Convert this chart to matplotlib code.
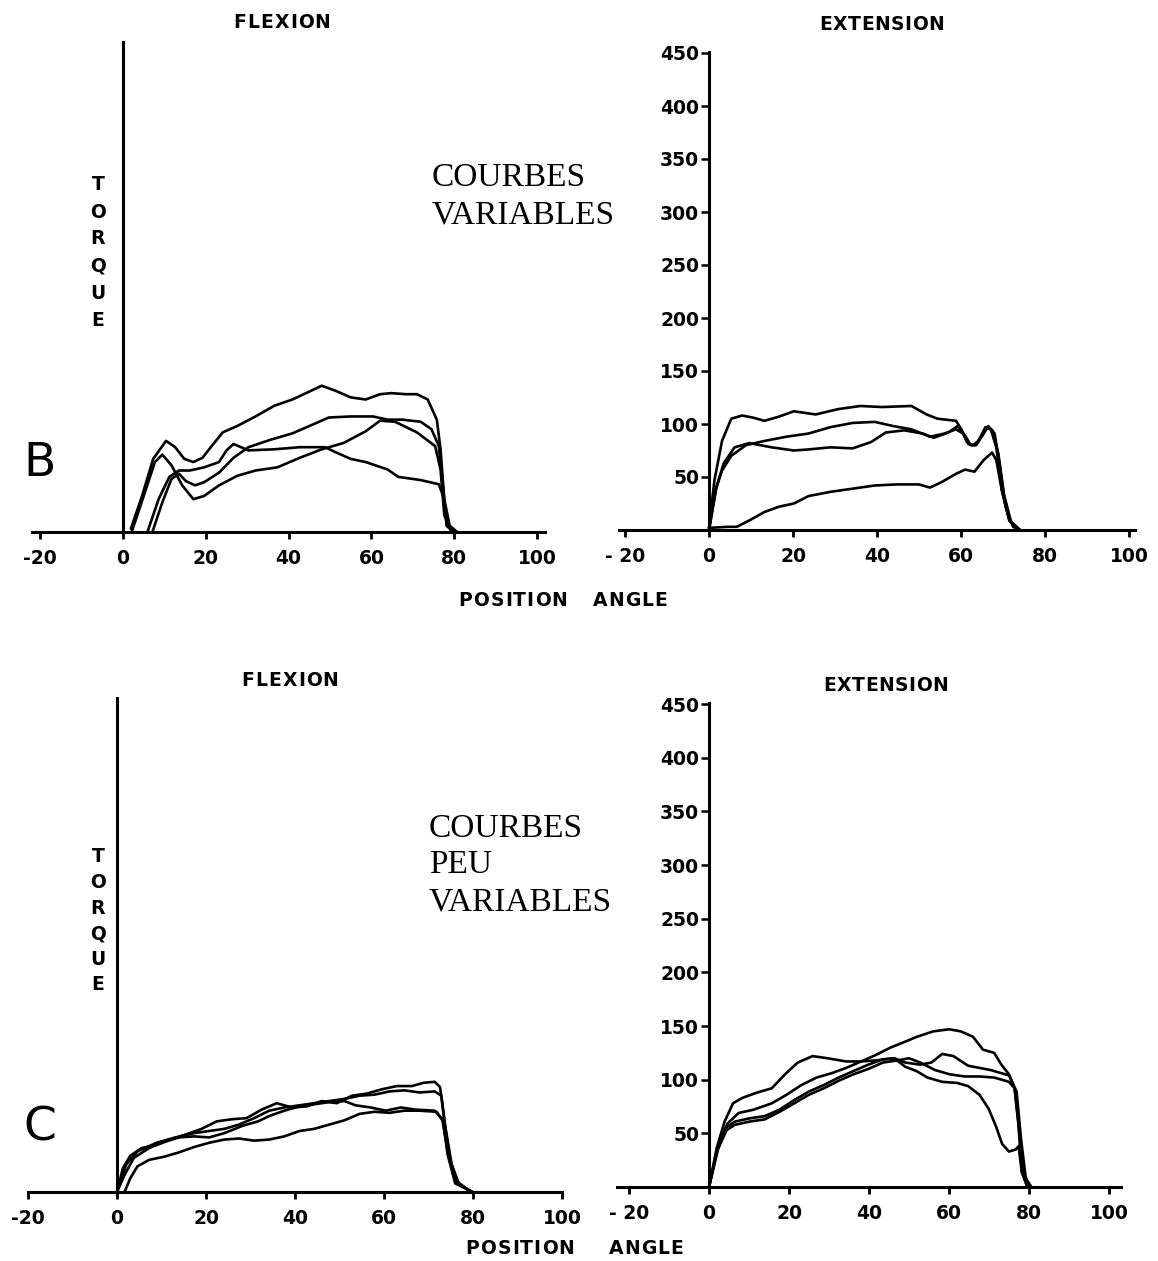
import matplotlib
matplotlib.use("Agg")
import matplotlib.pyplot as plt

W, H = 1158, 1261

# ---------------- data (angle in degrees, torque) ----------------
x_ticks = [-20, 0, 20, 40, 60, 80, 100]
x_labels_left = ["-20", "0", "20", "40", "60", "80", "100"]
x_labels_right = ["- 20", "0", "20", "40", "60", "80", "100"]
y_ticks = [50, 100, 150, 200, 250, 300, 350, 400, 450]
y_labels = ["50", "100", "150", "200", "250", "300", "350", "400", "450"]

# B - FLEXION
bf1_angle = [1.9, 4.6, 7.3, 10.4, 12.6, 14.8, 17.0, 19.2, 21.4, 24.1, 27.6, 32.0, 36.5, 40.9, 45.3, 48.0,
             51.5, 55.0, 58.6, 62.1, 64.8, 68.3, 71.0, 73.6, 75.8, 76.7, 77.6, 78.9, 80.7]
bf1_torque = [3, 34, 69, 86, 80, 69, 66, 70, 81, 94, 100, 109, 119, 125, 133, 138,
              133, 127, 125, 130, 131, 130, 130, 125, 106, 78, 31, 6, 0]
bf2_angle = [2.1, 5.0, 7.7, 9.5, 11.7, 14.3, 17.0, 19.6, 23.2, 27.6, 32.0, 37.3, 42.7, 48.0, 53.3, 58.6,
             62.1, 65.7, 71.0, 75.4, 76.7, 77.6, 79.4]
bf2_torque = [0, 34, 66, 73, 63, 44, 31, 34, 44, 53, 58, 61, 70, 78, 84, 95,
              105, 104, 94, 81, 59, 16, 0]
bf3_angle = [5.9, 8.6, 11.2, 13.5, 16.1, 19.6, 23.2, 25.0, 26.7, 28.5, 30.3, 36.5, 42.7, 48.8, 51.5, 55.0,
             58.6, 63.9, 66.5, 71.9, 76.3, 77.3, 78.2, 79.8]
bf3_torque = [0, 31, 52, 58, 58, 61, 66, 77, 83, 80, 77, 78, 80, 80, 75, 69,
              66, 59, 52, 49, 45, 34, 6, 0]
bf4_angle = [7.1, 9.5, 11.7, 13.5, 15.2, 17.4, 19.6, 23.2, 26.7, 30.3, 35.6, 40.9, 46.2, 49.7, 55.0, 60.4,
             63.9, 67.4, 71.9, 74.5, 76.3, 77.2, 78.2, 79.8]
bf4_torque = [0, 28, 50, 55, 48, 44, 47, 56, 70, 80, 87, 93, 102, 108, 109, 109,
              106, 106, 104, 97, 81, 47, 6, 0]

# B - EXTENSION
be1_angle = [0, 1.3, 3.1, 5.3, 7.9, 10.5, 13.2, 16.7, 20.2, 25.4, 30.7, 36.0, 41.2, 48.2, 51.8, 54.4,
             58.8, 60.1, 61.4, 62.7, 64.0, 65.8, 67.1, 68.4, 69.7, 71.5, 73.7]
be1_torque = [2, 47, 84, 105, 108, 106, 103, 107, 112, 109, 114, 117, 116, 117, 109, 105,
              103, 95, 83, 80, 83, 97, 95, 78, 38, 9, 0]
be2_angle = [0, 1.6, 3.1, 5.3, 8.8, 13.2, 18.4, 23.7, 28.9, 34.2, 39.5, 43.9, 48.2, 52.6, 56.1, 58.8,
             60.5, 61.8, 63.2, 64.9, 66.2, 67.5, 68.9, 70.2, 71.9, 74.1]
be2_torque = [0, 38, 56, 70, 80, 84, 88, 91, 97, 101, 102, 98, 95, 88, 91, 95,
              91, 81, 80, 88, 97, 94, 72, 34, 8, 0]
be3_angle = [0, 1.8, 3.5, 6.1, 9.6, 14.9, 20.2, 23.7, 28.9, 34.2, 38.6, 42.1, 46.5, 50.9, 53.5, 57.0,
             59.2, 61.0, 62.3, 63.6, 65.4, 66.5, 68.0, 69.3, 70.6, 72.4, 74.1]
be3_torque = [0, 41, 63, 78, 82, 78, 75, 76, 78, 77, 83, 92, 94, 91, 87, 92,
              98, 89, 80, 80, 91, 98, 91, 59, 22, 3, 0]
be4_angle = [0, 4.4, 6.6, 9.6, 13.2, 16.7, 20.2, 23.7, 28.9, 34.2, 39.5, 44.7, 50.0, 52.6, 55.3, 58.8,
             61.0, 63.2, 65.4, 67.4, 68.4, 69.7, 71.5, 73.7]
be4_torque = [2, 3, 3, 9, 17, 22, 25, 32, 36, 39, 42, 43, 43, 40, 45, 53,
              57, 55, 66, 73, 66, 38, 9, 0]

# C - FLEXION
cf1_angle = [0, 1.3, 3.0, 5.5, 8.9, 12.2, 15.6, 19.0, 22.4, 25.8, 29.1, 32.5, 35.9, 39.3, 42.7, 46.0,
             49.4, 52.8, 56.2, 59.5, 62.9, 66.3, 68.8, 71.4, 72.6, 73.5, 74.7, 76.4, 79.4]
cf1_torque = [0, 22, 34, 41, 44, 49, 54, 59, 66, 68, 69, 77, 83, 79, 80, 85,
              83, 90, 92, 96, 99, 99, 102, 103, 98, 69, 32, 10, 0]
cf2_angle = [0, 2.1, 4.6, 8.9, 13.1, 17.3, 20.7, 24.1, 27.4, 30.8, 34.2, 37.6, 41.0, 44.3, 47.7, 51.1,
             54.5, 57.9, 61.2, 64.6, 68.0, 71.4, 72.9, 73.7, 75.2, 76.9, 79.7]
cf2_torque = [0, 26, 38, 46, 51, 55, 57, 59, 63, 69, 76, 79, 81, 83, 85, 87,
              90, 91, 94, 95, 93, 94, 90, 63, 26, 7, 0]
cf3_angle = [0, 1.7, 3.8, 7.2, 10.6, 13.9, 17.3, 20.7, 24.1, 28.3, 31.7, 34.2, 37.6, 41.0, 44.3, 47.7,
             51.1, 53.6, 57.0, 60.4, 63.8, 67.1, 71.4, 73.1, 74.3, 76.0, 79.8]
cf3_torque = [0, 16, 32, 41, 47, 51, 52, 51, 55, 62, 66, 71, 76, 80, 82, 84,
              85, 81, 79, 76, 79, 77, 76, 68, 38, 10, 0]
cf4_angle = [1.7, 3.0, 4.6, 7.2, 10.6, 13.9, 17.3, 20.7, 24.1, 27.4, 30.8, 34.2, 37.6, 41.0, 44.3, 47.7,
             51.1, 54.5, 57.9, 61.2, 64.6, 68.0, 71.8, 73.3, 74.3, 76.0, 80.0]
cf4_torque = [0, 13, 24, 30, 33, 37, 42, 46, 49, 50, 48, 49, 52, 57, 59, 63,
              67, 73, 75, 74, 76, 76, 75, 66, 35, 8, 0]

# C - EXTENSION
ce1_angle = [0, 2.3, 4.6, 7.4, 11.1, 15.7, 19.4, 23.1, 26.9, 30.6, 34.3, 38.0, 41.7, 45.4, 48.1, 52.0,
             56.0, 60.0, 63.0, 66.0, 68.5, 71.3, 73.1, 75.0, 76.4, 77.3, 78.7, 80.1]
ce1_torque = [0, 39, 59, 69, 72, 78, 86, 95, 102, 106, 111, 117, 123, 130, 134, 140,
              145, 147, 145, 140, 128, 125, 114, 105, 92, 61, 14, 0]
ce2_angle = [0, 1.9, 3.9, 6.0, 8.3, 12.0, 15.7, 19.0, 22.2, 25.9, 29.6, 34.3, 38.0, 41.7, 46.3, 49.1,
             52.8, 55.6, 58.3, 61.1, 64.8, 70.4, 75.0, 76.9, 78.0, 79.2, 80.6]
ce2_torque = [0, 36, 61, 78, 83, 88, 92, 105, 116, 122, 120, 117, 117, 118, 120, 116,
              114, 116, 124, 122, 113, 109, 104, 89, 45, 8, 0]
ce3_angle = [0, 2.0, 4.2, 6.5, 10.2, 13.9, 17.6, 21.3, 25.0, 28.7, 32.4, 36.1, 39.8, 43.5, 46.3, 49.1,
             51.9, 54.6, 58.3, 62.0, 64.8, 67.6, 69.9, 71.8, 73.3, 75.0, 76.7, 77.4, 78.2, 79.6]
ce3_torque = [0, 33, 55, 61, 64, 66, 72, 81, 89, 95, 102, 108, 114, 119, 120, 112,
              108, 102, 98, 97, 94, 86, 73, 56, 40, 33, 35, 38, 14, 0]
ce4_angle = [0, 2.3, 4.4, 6.5, 10.2, 13.9, 17.6, 21.3, 25.0, 28.7, 32.4, 36.1, 39.8, 43.5, 47.2, 50.0,
             52.8, 56.5, 60.2, 63.9, 67.6, 71.3, 75.0, 76.4, 77.3, 78.2, 79.6]
ce4_torque = [0, 36, 53, 58, 61, 63, 70, 78, 86, 92, 99, 105, 110, 116, 118, 120,
              116, 109, 105, 103, 103, 102, 98, 92, 61, 14, 0]

# ---------------- drawing ----------------
fig = plt.figure(figsize=(W / 100, H / 100), dpi=100)
fig.patch.set_facecolor("white")

SANS = "DejaVu Sans"
SERIF = "Liberation Serif"
TICK_FS = 13.5


def make_ax(ox, oy, sx, sy, xspan, ytop, with_yticks, xlabels):
    xlo, xhi = -26.0, 106.0
    ylo, yhi = -25.0, 475.0
    left_px = ox + xlo * sx
    right_px = ox + xhi * sx
    top_px = oy - yhi * sy
    bottom_px = oy - ylo * sy
    rect = [left_px / W, 1 - bottom_px / H, (right_px - left_px) / W, (bottom_px - top_px) / H]
    ax = fig.add_axes(rect)
    ax.set_xlim(xlo, xhi)
    ax.set_ylim(ylo, yhi)
    ax.patch.set_alpha(0)
    for s in ("top", "right"):
        ax.spines[s].set_visible(False)
    ax.spines["bottom"].set_position(("data", 0))
    ax.spines["left"].set_position(("data", 0))
    ax.spines["bottom"].set_bounds(xspan[0], xspan[1])
    ax.spines["left"].set_bounds(0, ytop)
    ax.spines["bottom"].set_linewidth(2.2)
    ax.spines["left"].set_linewidth(2.2)
    ax.set_xticks(x_ticks)
    ax.set_xticklabels(xlabels, fontsize=TICK_FS, fontweight="bold", family=SANS)
    ax.tick_params(axis="x", direction="out", length=5, width=2, pad=7)
    if with_yticks:
        ax.set_yticks(y_ticks)
        ax.set_yticklabels(y_labels, fontsize=TICK_FS, fontweight="bold", family=SANS)
        ax.tick_params(axis="y", direction="out", length=6, width=1.8, pad=1)
    else:
        ax.set_yticks([])
    return ax


def curves(ax, data):
    for xs, ys in data:
        ax.plot(xs, ys, color="black", lw=1.9, solid_joinstyle="round",
                solid_capstyle="round", clip_on=False)


ax_bf = make_ax(123, 532, 4.14, 1.06, (-22, 102), 462, False, x_labels_left)
curves(ax_bf, [(bf1_angle, bf1_torque), (bf2_angle, bf2_torque),
               (bf3_angle, bf3_torque), (bf4_angle, bf4_torque)])

ax_be = make_ax(709, 530, 4.2, 1.06, (-21.5, 101.5), 451, True, x_labels_right)
curves(ax_be, [(be1_angle, be1_torque), (be2_angle, be2_torque),
               (be3_angle, be3_torque), (be4_angle, be4_torque)])

ax_cf = make_ax(117, 1192, 4.45, 1.07, (-20, 100), 462, False, x_labels_left)
curves(ax_cf, [(cf1_angle, cf1_torque), (cf2_angle, cf2_torque),
               (cf3_angle, cf3_torque), (cf4_angle, cf4_torque)])

ax_ce = make_ax(709, 1187, 4.0, 1.073, (-23, 103), 451, True, x_labels_right)
curves(ax_ce, [(ce1_angle, ce1_torque), (ce2_angle, ce2_torque),
               (ce3_angle, ce3_torque), (ce4_angle, ce4_torque)])


def ftext(x, y, s, **kw):
    return fig.text(x / W, 1 - y / H, s, ha=kw.pop("ha", "center"), va=kw.pop("va", "center"), **kw)


renderer = fig.canvas.get_renderer()


def tracked(xc, y, s, track, **kw):
    widths = []
    for ch in s:
        t = fig.text(0, 0, ch, **kw)
        widths.append(t.get_window_extent(renderer).width)
        t.remove()
    total = sum(widths) + track * (len(s) - 1)
    x = xc - total / 2.0
    for ch, w in zip(s, widths):
        ftext(x, y, ch, ha="left", **kw)
        x += w + track


bold = dict(fontsize=13.5, fontweight="bold", family=SANS)
tracked(282, 22, "FLEXION", 1.0, **bold)
tracked(882, 24, "EXTENSION", 0.5, **bold)
tracked(290, 680, "FLEXION", 1.0, **bold)
tracked(886, 686, "EXTENSION", 0.5, **bold)
tracked(513, 600, "POSITION", 1.0, **bold)
tracked(630, 600, "ANGLE", 1.0, **bold)
tracked(520, 1249, "POSITION", 1.0, **bold)
tracked(646, 1249, "ANGLE", 1.0, **bold)

for i, ch in enumerate("TORQUE"):
    ftext(98, 185 + i * 27, ch, **bold)
    ftext(98, 857 + i * 25.6, ch, **bold)

serif = dict(fontsize=24, family=SERIF, ha="left")
ftext(432, 178, "COURBES", **serif)
ftext(432, 215, "VARIABLES", **serif)
ftext(429, 829, "COURBES", **serif)
ftext(429, 865, "PEU", **serif)
ftext(429, 902, "VARIABLES", **serif)

ftext(40, 463, "B", fontsize=34, family=SANS)
ftext(40, 1128, "C", fontsize=34, family=SANS)

fig.savefig("out.png", dpi=100, facecolor="white")
